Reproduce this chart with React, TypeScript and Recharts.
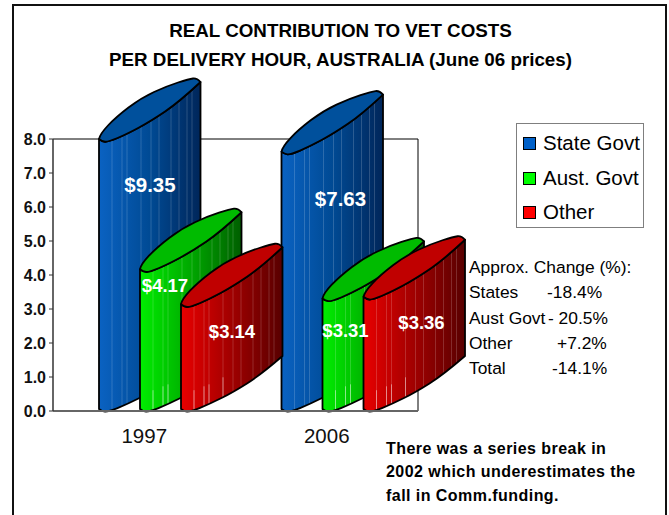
import React from "react";
import { BarChart, Bar, XAxis, YAxis, CartesianGrid, Legend } from "recharts";

const categories = ["1997", "2006"];
const stateGovt = [9.35, 7.63];
const austGovt = [4.17, 3.31];
const other = [3.14, 3.36];
const yTicks = [0, 1, 2, 3, 4, 5, 6, 7, 8];
const AXIS_MAX = 8;

const titleLines = ["REAL CONTRIBUTION TO VET COSTS", "PER DELIVERY HOUR, AUSTRALIA (June 06 prices)"];
const changeRows = [
  { label: "States", value: "-18.4%", left: 547, y: 292 },
  { label: "Aust Govt", value: "- 20.5%", left: 548, y: 318 },
  { label: "Other", value: "+7.2%", left: 557, y: 343 },
  { label: "Total", value: "-14.1%", left: 552, y: 368 },
];
const noteLines = [
  "There was a series break in",
  "2002 which underestimates the",
  "fall in Comm.funding.",
];

const table = categories.map((c, i) => ({
  category: c,
  state: stateGovt[i],
  aust: austGovt[i],
  other: other[i],
}));

const FONT = "'Liberation Sans', Arial, sans-serif";
const SHIFT = 16;
const BAR_SIZE = 41;
const UPPER = [[0, 0], [1, -5], [17, -22], [42, -41], [68, -53], [90, -60], [98, -61], [101.5, -57]];
const LOWER = [[0, 0], [3, 2.5], [9, 3], [28, -5], [52, -18], [80, -37], [101.5, -57]];
const STRIPES = [13, 23, 28, 42, 52, 60, 72, 80, 88, 93];

const lowerAt = (dx: number) => {
  for (let i = 1; i < LOWER.length; i++) {
    if (dx <= LOWER[i][0]) {
      const [x0, y0] = LOWER[i - 1];
      const [x1, y1] = LOWER[i];
      return y0 + ((y1 - y0) * (dx - x0)) / (x1 - x0);
    }
  }
  return LOWER[LOWER.length - 1][1];
};

type Look = {
  key: string; name: string; fill: string; top: string; stops: string[]; bright: number;
  labelDx: number[]; labelDy: number[]; labelSize: number;
};
const looks: Look[] = [
  { key: "state", name: "State Govt", fill: "#0060c8", top: "#00509c", stops: ["#0a62c2", "#004a94", "#00265a"], bright: 0, labelDx: [51, 59], labelDy: [45, 47], labelSize: 20.5 },
  { key: "aust", name: "Aust. Govt", fill: "#00ff00", top: "#00bb00", stops: ["#00ee00", "#00a800", "#005e00"], bright: 0.45, labelDx: [25, 23], labelDy: [16, 32], labelSize: 18.5 },
  { key: "other", name: "Other", fill: "#ff0000", top: "#c00000", stops: ["#e80000", "#a00000", "#580000"], bright: 0.45, labelDx: [51, 58], labelDy: [27, 26], labelSize: 18.5 },
];
const seriesValues = [stateGovt, austGovt, other];

const curve = (arr: number[][], ox: number, oy: number, sy = 1) => {
  const p = arr.map(([dx, dy]) => [ox + dx, oy + dy * sy]);
  let d = "";
  for (let i = 1; i < p.length - 1; i++) {
    const mx = (p[i][0] + p[i + 1][0]) / 2;
    const my = (p[i][1] + p[i + 1][1]) / 2;
    d += ` Q ${p[i][0]} ${p[i][1]} ${i === p.length - 2 ? p[i + 1][0] : mx} ${i === p.length - 2 ? p[i + 1][1] : my}`;
  }
  return d;
};

const Cylinder = (look: Look, seriesIndex: number) => (props: any) => {
  const { x, y, height, index } = props;
  const lx = x + SHIFT;
  const base = y + height - 2;
  const gid = `grad-${look.key}-${index}`;
  const bottomScale = 0.93;
  const revLower = [...LOWER].reverse();
  const rightTop = y + LOWER[LOWER.length - 1][1];
  const body =
    `M ${lx} ${y} L ${lx} ${base}` +
    curve(LOWER, lx, base, bottomScale) +
    ` L ${lx + 101.5} ${rightTop}` +
    curve(revLower, lx, y) +
    " Z";
  const face = `M ${lx} ${y}` + curve(UPPER, lx, y) + curve(revLower, lx, y) + " Z";

  // Value labels sit above every cylinder, so the last series draws them all.
  const isLast = seriesIndex === looks.length - 1;
  const ownValue = Math.min(seriesValues[seriesIndex][index], AXIS_MAX);
  const unit = height / ownValue;
  const zero = y + height;

  return (
    <g>
      <defs>
        <linearGradient id={gid} x1="0" y1="0" x2="1" y2="0">
          <stop offset="0" stopColor={look.stops[0]} />
          <stop offset="0.5" stopColor={look.stops[1]} />
          <stop offset="1" stopColor={look.stops[2]} />
        </linearGradient>
      </defs>
      <path d={body} fill={`url(#${gid})`} stroke="none" />
      {STRIPES.map((s) => {
        const y1 = y + lowerAt(s);
        const y2 = base + lowerAt(s) * bottomScale;
        return (
          <g key={s}>
            <line x1={lx + s} x2={lx + s} y1={y1} y2={y2} stroke="#ffffff" strokeOpacity={0.17} strokeWidth={1} />
            {look.bright > 0 && s < 50 && y2 - 20 > y1 && (
              <line x1={lx + s} x2={lx + s} y1={y2 - 20} y2={y2} stroke="#ffffff" strokeOpacity={look.bright} strokeWidth={1} />
            )}
          </g>
        );
      })}
      <path d={body} fill="none" stroke="#000" strokeWidth={1.8} strokeLinejoin="round" />
      <path d={face} fill={look.top} stroke="#000" strokeWidth={1.8} strokeLinejoin="round" />
      {isLast &&
        looks.map((l, s) => {
          const top = zero - Math.min(seriesValues[s][index], AXIS_MAX) * unit;
          const left = lx - (looks.length - 1 - s) * BAR_SIZE;
          return (
            <text
              key={l.key}
              x={left + l.labelDx[index]}
              y={top + l.labelDy[index]}
              fill="#fff"
              fontFamily={FONT}
              fontWeight="bold"
              fontSize={l.labelSize}
              textAnchor="middle"
              dominantBaseline="central"
            >
              {`$${seriesValues[s][index].toFixed(2)}`}
            </text>
          );
        })}
    </g>
  );
};

const LegendBox = () => (
  <div
    style={{
      width: 128,
      height: 105,
      boxSizing: "border-box",
      border: "1.5px solid #7f7f7f",
      background: "#fff",
      position: "relative",
      fontFamily: FONT,
    }}
  >
    {looks.map((l, i) => (
      <div key={l.key} style={{ position: "absolute", left: 6, top: [7, 42, 76][i], height: 24, display: "flex", alignItems: "center" }}>
        <span style={{ width: 11, height: 11, background: l.fill, border: "1.3px solid #000", marginRight: 7, display: "inline-block" }} />
        <span style={{ fontSize: 20.5, lineHeight: "24px", color: "#000" }}>{l.name}</span>
      </div>
    ))}
  </div>
);

const abs = (left: number, centerY: number, extra: React.CSSProperties = {}): React.CSSProperties => ({
  position: "absolute",
  left,
  top: centerY - 12,
  height: 24,
  lineHeight: "24px",
  whiteSpace: "pre",
  fontFamily: FONT,
  color: "#000",
  ...extra,
});

export default function App() {
  return (
    <div style={{ position: "absolute", left: 0, top: 0, width: 669, height: 515, overflow: "hidden", background: "#fff" }}>
      <div style={{ position: "absolute", left: 12, top: 4, width: 651, height: 600, border: "2px solid #111" }} />
      <BarChart
        width={669}
        height={515}
        data={table}
        margin={{ top: 139, right: 251, bottom: 64, left: 0 }}
        barSize={BAR_SIZE}
        barGap={0}
        style={{ position: "absolute", left: 0, top: 0 }}
      >
        <CartesianGrid
          stroke="#000"
          strokeWidth={1}
          horizontalCoordinatesGenerator={({ offset }: any) => [offset.top]}
          verticalCoordinatesGenerator={({ offset }: any) => [offset.left + offset.width]}
        />
        <XAxis
          dataKey="category"
          axisLine={{ stroke: "#666", strokeWidth: 2 }}
          tickLine={false}
          height={40}
          tickMargin={11}
          tick={{ fontFamily: FONT, fontSize: 20.5, fill: "#111" }}
        />
        <YAxis
          width={53}
          domain={[0, AXIS_MAX]}
          ticks={yTicks}
          interval={0}
          tickFormatter={(v: number) => v.toFixed(1)}
          axisLine={{ stroke: "#333", strokeWidth: 1.5 }}
          tickLine={{ stroke: "#333" }}
          tickSize={4}
          tickMargin={3}
          tick={{ fontFamily: FONT, fontSize: 16, fontWeight: "bold", fill: "#111" }}
        />
        <Legend
          layout="vertical"
          align="center"
          verticalAlign="middle"
          wrapperStyle={{ position: "absolute", left: 516, top: 123, width: 128, height: 105 }}
          content={() => <LegendBox />}
        />
        {looks.map((l, i) => (
          <Bar
            key={l.key}
            name={l.name}
            dataKey={(d: any) => Math.min(d[l.key], AXIS_MAX)}
            fill={l.fill}
            isAnimationActive={false}
            shape={Cylinder(l, i)}
          />
        ))}
      </BarChart>

      {titleLines.map((t, i) => (
        <div key={t} style={{ position: "absolute", left: 0, width: 681, top: [31, 60][i] - 12, height: 24, lineHeight: "24px", textAlign: "center", fontFamily: FONT, fontWeight: "bold", fontSize: 18.8, color: "#000" }}>
          {t}
        </div>
      ))}

      <div style={abs(469, 267, { fontSize: 17.4 })}>Approx. Change (%):</div>
      {changeRows.map((r) => (
        <React.Fragment key={r.label}>
          <div style={abs(469, r.y, { fontSize: 17.4 })}>{r.label}</div>
          <div style={abs(r.left, r.y, { fontSize: 17.4 })}>{r.value}</div>
        </React.Fragment>
      ))}

      {noteLines.map((t, i) => (
        <div key={t} style={abs(386, [449, 472, 496][i], { fontSize: 16, fontWeight: "bold", letterSpacing: 0.45 })}>
          {t}
        </div>
      ))}
    </div>
  );
}
